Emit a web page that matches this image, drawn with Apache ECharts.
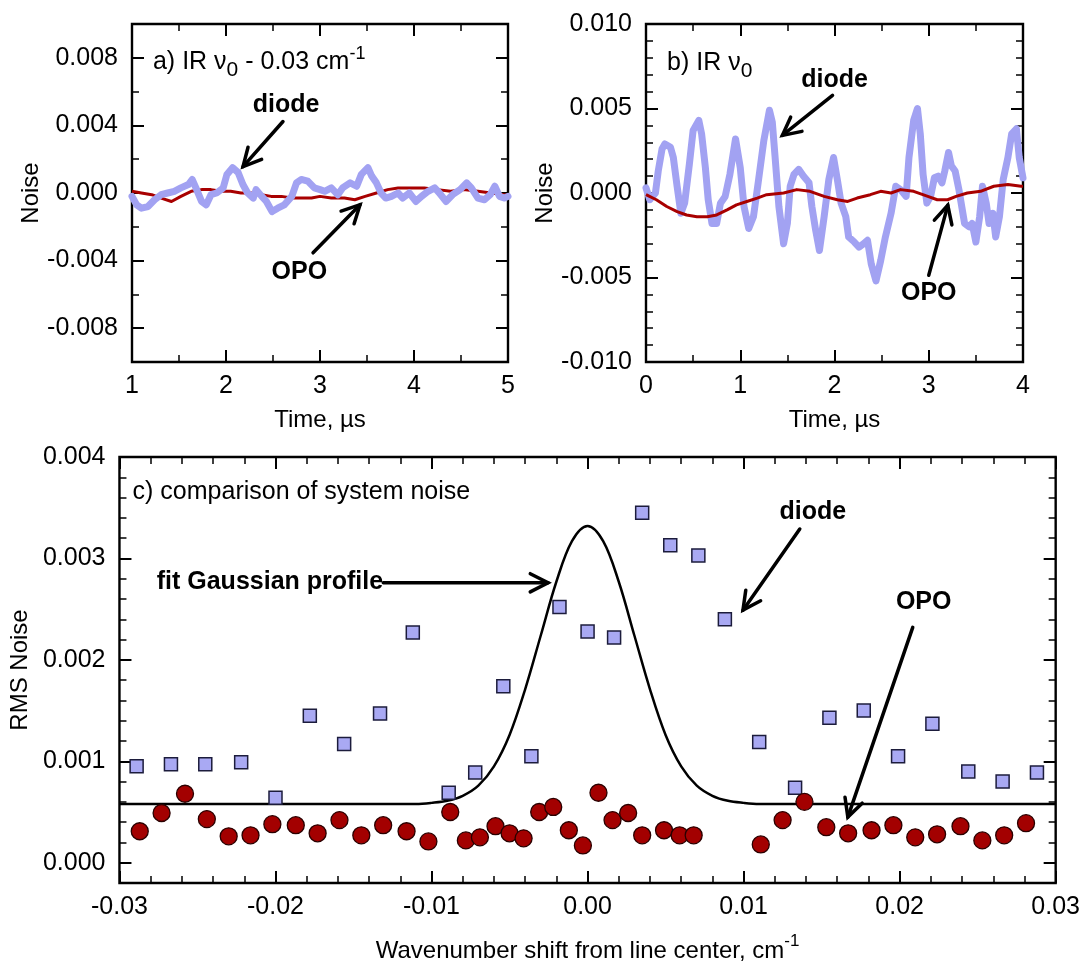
<!DOCTYPE html>
<html><head><meta charset="utf-8">
<script src="https://cdn.jsdelivr.net/npm/echarts@6/dist/echarts.min.js"></script>
<style>html,body{margin:0;padding:0;background:#fff}#c{width:1083px;height:970px}</style>
</head><body><div id="c"></div><script>
// ---------- Panel a: IR nu0 - 0.03 cm-1 ----------
const aDiodeT = [1.00,1.05,1.10,1.17,1.24,1.31,1.38,1.45,1.52,1.60,1.64,1.68,1.74,1.79,1.84,1.90,1.97,2.01,2.07,2.13,2.18,2.23,2.29,2.32,2.38,2.43,2.49,2.55,2.62,2.70,2.75,2.80,2.87,2.94,3.00,3.05,3.12,3.19,3.24,3.32,3.39,3.44,3.51,3.55,3.60,3.65,3.70,3.76,3.83,3.88,3.95,4.02,4.08,4.15,4.22,4.27,4.34,4.41,4.49,4.56,4.61,4.68,4.75,4.81,4.86,4.91,4.96,5.00];
const aDiodeY = [-0.0002,-0.0007,-0.0009,-0.0008,-0.0004,-0.0001,0.0000,0.0001,0.0003,0.0005,0.0008,0.0003,-0.0005,-0.0007,-0.0001,0.0000,0.0003,0.0011,0.0015,0.0012,0.0005,0.0000,-0.0003,0.0002,-0.0002,-0.0005,-0.0011,-0.0009,-0.0007,-0.0002,0.0006,0.0008,0.0007,0.0003,0.0002,0.0001,0.0003,-0.0001,0.0003,0.0006,0.0004,0.0011,0.0015,0.0010,0.0006,0.0000,-0.0003,-0.0002,0.0000,-0.0003,0.0000,-0.0005,-0.0002,0.0001,0.0003,0.0000,-0.0005,-0.0001,0.0002,0.0006,0.0003,-0.0003,-0.0004,-0.0001,0.0004,-0.0002,-0.0003,-0.0002];
const aOpoT = [1.00,1.10,1.21,1.31,1.42,1.52,1.63,1.74,1.84,1.95,2.05,2.16,2.27,2.38,2.48,2.59,2.70,2.80,2.91,3.00,3.12,3.26,3.37,3.48,3.60,3.72,3.83,3.97,4.11,4.25,4.39,4.53,4.68,4.82,4.96,5.00];
const aOpoY = [0.0001,0.0000,-0.0001,-0.0003,-0.0005,-0.0002,0.0001,0.0002,0.0002,0.0001,0.0001,0.0000,0.0000,-0.0001,-0.0002,-0.0002,-0.0003,-0.0003,-0.0003,-0.0002,-0.0003,-0.0003,-0.0004,-0.0002,0.0000,0.0002,0.0003,0.0003,0.0003,0.0002,0.0001,0.0002,0.0001,0.0000,-0.0001,-0.0001];
const aXTicks = [1,2,3,4,5];
const aYTicks = [-0.008,-0.004,0,0.004,0.008];

// ---------- Panel b: IR nu0 ----------
const bDiodeT = [0.00,0.04,0.10,0.13,0.17,0.20,0.26,0.29,0.33,0.37,0.41,0.46,0.50,0.56,0.59,0.63,0.66,0.70,0.75,0.79,0.84,0.89,0.95,1.00,1.04,1.09,1.14,1.19,1.25,1.31,1.34,1.37,1.41,1.46,1.50,1.53,1.57,1.62,1.67,1.73,1.76,1.80,1.84,1.89,1.94,1.99,2.03,2.07,2.12,2.15,2.21,2.26,2.31,2.35,2.39,2.44,2.49,2.54,2.60,2.65,2.70,2.76,2.79,2.84,2.88,2.91,2.94,2.98,3.02,3.06,3.10,3.14,3.17,3.21,3.24,3.28,3.32,3.38,3.43,3.46,3.50,3.54,3.57,3.61,3.64,3.68,3.71,3.75,3.79,3.84,3.88,3.93,3.96,4.00];
const bDiodeY = [0.0003,-0.0004,0.0000,0.0013,0.0026,0.0029,0.0027,0.0021,0.0004,-0.0012,-0.0006,0.0017,0.0037,0.0043,0.0035,0.0015,-0.0004,-0.0018,-0.0018,-0.0006,-0.0002,0.0011,0.0032,0.0015,-0.0008,-0.0021,-0.0014,0.0006,0.0031,0.0049,0.0042,0.0021,-0.0008,-0.0030,-0.0018,0.0004,0.0011,0.0014,0.0010,0.0006,-0.0008,-0.0022,-0.0034,-0.0014,0.0008,0.0021,0.0008,-0.0006,-0.0014,-0.0026,-0.0029,-0.0032,-0.0030,-0.0028,-0.0042,-0.0052,-0.0040,-0.0026,-0.0012,0.0004,0.0002,-0.0002,0.0021,0.0043,0.0050,0.0035,0.0011,-0.0006,-0.0002,0.0009,0.0010,0.0006,0.0013,0.0024,0.0016,0.0013,0.0002,-0.0018,-0.0020,-0.0018,-0.0029,-0.0014,0.0004,-0.0006,-0.0018,-0.0012,-0.0026,-0.0014,0.0008,0.0021,0.0035,0.0038,0.0021,0.0009];
const bOpoT = [0.00,0.11,0.22,0.33,0.43,0.54,0.65,0.75,0.86,0.96,1.07,1.18,1.28,1.46,1.60,1.74,1.89,2.03,2.14,2.24,2.38,2.49,2.60,2.70,2.84,2.99,3.09,3.20,3.29,3.41,3.55,3.69,3.84,3.98,4.00];
const bOpoY = [-0.0001,-0.0004,-0.0008,-0.0011,-0.0013,-0.0014,-0.0014,-0.0013,-0.0010,-0.0007,-0.0005,-0.0003,-0.0001,0.0000,0.0002,0.0001,-0.0002,-0.0004,-0.0005,-0.0003,-0.0001,0.0001,0.0000,0.0002,0.0001,-0.0002,-0.0004,-0.0004,-0.0002,0.0000,0.0001,0.0004,0.0005,0.0004,0.0004];
const bXTicks = [0,1,2,3,4];
const bYTicks = [-0.010,-0.005,0,0.005,0.010];

// ---------- Panel c: comparison of system noise ----------
const cDiodeX = [-0.0289,-0.0267,-0.0245,-0.0222,-0.0200,-0.0178,-0.0156,-0.0133,-0.0112,-0.0089,-0.0072,-0.0054,-0.0036,-0.0018,0.0000,0.0017,0.0035,0.0053,0.0071,0.0088,0.0110,0.0133,0.0155,0.0177,0.0199,0.0221,0.0244,0.0266,0.0288];
const cDiodeY = [0.00095,0.00097,0.00097,0.00099,0.00064,0.00145,0.00117,0.00147,0.00227,0.00069,0.00089,0.00174,0.00105,0.00252,0.00228,0.00222,0.00345,0.00313,0.00303,0.00240,0.00119,0.00074,0.00143,0.00150,0.00105,0.00137,0.00090,0.00080,0.00089];
const cOpoX = [-0.0287,-0.0273,-0.0258,-0.0244,-0.0230,-0.0216,-0.0202,-0.0187,-0.0173,-0.0159,-0.0145,-0.0131,-0.0116,-0.0102,-0.0088,-0.0078,-0.0069,-0.0059,-0.0050,-0.0041,-0.0031,-0.0022,-0.0012,-0.0003,0.0007,0.0016,0.0026,0.0035,0.0049,0.0059,0.0068,0.0111,0.0125,0.0139,0.0153,0.0167,0.0182,0.0196,0.0210,0.0224,0.0239,0.0253,0.0267,0.0281];
const cOpoY = [0.00031,0.00049,0.00068,0.00043,0.00026,0.00027,0.00038,0.00037,0.00029,0.00042,0.00027,0.00037,0.00031,0.00021,0.00050,0.00022,0.00025,0.00036,0.00029,0.00024,0.00050,0.00055,0.00032,0.00017,0.00069,0.00042,0.00049,0.00027,0.00032,0.00027,0.00027,0.00018,0.00042,0.00060,0.00035,0.00029,0.00032,0.00037,0.00025,0.00028,0.00036,0.00022,0.00027,0.00039];
const cFitX = [-0.030,-0.011,-0.010,-0.009,-0.008,-0.007,-0.006,-0.005,-0.004,-0.003,-0.002,-0.001,0.000,0.001,0.002,0.003,0.004,0.005,0.006,0.007,0.008,0.009,0.010,0.011,0.030];
const cFitY = [0.00058,0.00058,0.00059,0.00061,0.00066,0.00076,0.00095,0.00126,0.00171,0.00224,0.00277,0.00317,0.00332,0.00317,0.00277,0.00224,0.00171,0.00126,0.00095,0.00076,0.00066,0.00061,0.00059,0.00058,0.00058];
const cXTicks = [-0.03,-0.02,-0.01,0,0.01,0.02,0.03];
const cYTicks = [0,0.001,0.002,0.003,0.004];

const zip = (xs, ys) => xs.map((x, i) => [x, ys[i]]);

const FONT = 'Liberation Sans, Arial, Helvetica, sans-serif';
const BLACK = '#000';
const DIODE_LINE = '#a2a2f2';
const OPO_LINE = '#a80000';

const fmt = d => v => (Math.abs(v) < 1e-12 ? 0 : v).toFixed(d);
const lbl = (f, margin) => ({show: true, fontSize: 25, color: BLACK, fontFamily: FONT, margin: margin, formatter: f, showMinLabel: true, showMaxLabel: true});
const majTick = {show: true, inside: true, length: 12, lineStyle: {color: BLACK, width: 2}};
const minTickStyle = {show: true, inside: true, length: 7, lineStyle: {color: BLACK, width: 1.5}};
const nameStyle = {fontSize: 24, color: BLACK, fontFamily: FONT};
const noLine = {show: false, onZero: false};

function xPair(grid, min, max, interval, split, labelFmt, name, gap, nameStyleX) {
  const base = {type: 'value', gridIndex: grid, min, max, interval,
    axisLine: noLine, splitLine: {show: false}, minorSplitLine: {show: false},
    axisTick: majTick, minorTick: {show: true, splitNumber: split, length: 7, lineStyle: {color: BLACK, width: 1.5}}};
  return [
    Object.assign({}, base, {position: 'bottom', axisLabel: lbl(labelFmt, 12), name, nameLocation: 'middle', nameGap: gap, nameTextStyle: nameStyleX || nameStyle}),
    Object.assign({}, base, {position: 'top', axisLabel: {show: false}})
  ];
}
function yPairSimple(grid, min, max, interval, split, labelFmt, name, gap) {
  const base = {type: 'value', gridIndex: grid, min, max, interval,
    axisLine: noLine, splitLine: {show: false}, minorSplitLine: {show: false},
    axisTick: majTick, minorTick: {show: true, splitNumber: split, length: 7, lineStyle: {color: BLACK, width: 1.5}}};
  return [
    Object.assign({}, base, {position: 'left', axisLabel: lbl(labelFmt, 14), name, nameLocation: 'middle', nameGap: gap, nameRotate: 90, nameTextStyle: nameStyle}),
    Object.assign({}, base, {position: 'right', axisLabel: {show: false}})
  ];
}
// minor-step axis + overlay axis carrying the labelled major ticks
function yQuad(grid, min, max, minorStep, majors, labelFmt, name, gap) {
  const base = {type: 'value', gridIndex: grid, min, max, interval: minorStep,
    axisLine: noLine, splitLine: {show: false}};
  const minor = Object.assign({}, base, {axisTick: minTickStyle, axisLabel: {show: false}});
  const major = Object.assign({}, base, {axisTick: Object.assign({}, majTick, {customValues: majors})});
  return [
    Object.assign({}, minor, {position: 'left'}),
    Object.assign({}, major, {position: 'left', axisLabel: Object.assign(lbl(labelFmt, 14), {customValues: majors}), name, nameLocation: 'middle', nameGap: gap, nameRotate: 90, nameTextStyle: nameStyle}),
    Object.assign({}, minor, {position: 'right'}),
    Object.assign({}, major, {position: 'right', axisLabel: {show: false}})
  ];
}

const xAxes = [].concat(
  xPair(0, aXTicks[0], aXTicks[aXTicks.length - 1], 1, 2, v => String(Math.round(v)), 'Time, µs', 46),
  xPair(1, bXTicks[0], bXTicks[bXTicks.length - 1], 1, 2, v => String(Math.round(v)), 'Time, µs', 46),
  xPair(2, cXTicks[0], cXTicks[cXTicks.length - 1], 0.01, 5, fmt(2),
    '{n|Wavenumber shift from line center, cm}{p|-1}', 50,
    {rich: {n: {fontSize: 24, lineHeight: 36, color: BLACK, fontFamily: FONT}, p: {fontSize: 17, lineHeight: 17, verticalAlign: 'top', color: BLACK, fontFamily: FONT}}})
);
const yAxes = [].concat(
  yQuad(0, -0.01, 0.01, 0.002, aYTicks, fmt(3), 'Noise', 85),          // 0..3
  yPairSimple(1, bYTicks[0], bYTicks[bYTicks.length - 1], 0.005, 5, fmt(3), 'Noise', 85), // 4,5
  yQuad(2, -0.0002, 0.004, 0.0002, cYTicks, fmt(3), 'RMS Noise', 85)   // 6..9
);

const gridStyle = {show: true, borderColor: BLACK, borderWidth: 2.4, backgroundColor: 'transparent'};
const option = {
  animation: false,
  backgroundColor: '#fff',
  textStyle: {fontFamily: FONT},
  grid: [
    Object.assign({left: 132, top: 24, width: 376, height: 338}, gridStyle),
    Object.assign({left: 646, top: 24, width: 377, height: 338}, gridStyle),
    Object.assign({left: 119, top: 457, width: 937, height: 426}, gridStyle)
  ],
  xAxis: xAxes,
  yAxis: yAxes,
  series: [
    {name: 'a OPO', type: 'line', xAxisIndex: 0, yAxisIndex: 0, data: zip(aOpoT, aOpoY), showSymbol: false,
      lineStyle: {color: OPO_LINE, width: 3, join: 'round'}, z: 2},
    {name: 'a diode', type: 'line', xAxisIndex: 0, yAxisIndex: 0, data: zip(aDiodeT, aDiodeY), showSymbol: false,
      lineStyle: {color: DIODE_LINE, width: 7, cap: 'round', join: 'round'}, z: 3},
    {name: 'b diode', type: 'line', xAxisIndex: 2, yAxisIndex: 4, data: zip(bDiodeT, bDiodeY), showSymbol: false,
      lineStyle: {color: DIODE_LINE, width: 7, cap: 'round', join: 'round'}, z: 2},
    {name: 'b OPO', type: 'line', xAxisIndex: 2, yAxisIndex: 4, data: zip(bOpoT, bOpoY), showSymbol: false,
      lineStyle: {color: OPO_LINE, width: 3, join: 'round'}, z: 3},
    {name: 'fit', type: 'line', xAxisIndex: 4, yAxisIndex: 6, data: zip(cFitX, cFitY), showSymbol: false, smooth: 0.35,
      lineStyle: {color: BLACK, width: 2.5}, z: 2},
    {name: 'c diode', type: 'scatter', xAxisIndex: 4, yAxisIndex: 6, data: zip(cDiodeX, cDiodeY), symbol: 'rect', symbolSize: 13,
      itemStyle: {color: '#a9a9f3', borderColor: '#1c1c3c', borderWidth: 1.5, opacity: 1}, z: 3},
    {name: 'c OPO', type: 'scatter', xAxisIndex: 4, yAxisIndex: 6, data: zip(cOpoX, cOpoY), symbol: 'circle', symbolSize: 17,
      itemStyle: {color: '#a30000', borderColor: '#2a0000', borderWidth: 1.3, opacity: 1}, z: 3}
  ]
};

const chart = echarts.init(document.getElementById('c'), null, {renderer: 'canvas'});
chart.setOption(option);

// ---------- annotations (placed in data space, converted via the axes) ----------
const labels = [
  {s: 1, text: 'diode', at: [2.64, 0.0052]},
  {s: 1, text: 'OPO', at: [2.78, -0.0047]},
  {s: 2, text: 'diode', at: [2.0, 0.00667]},
  {s: 2, text: 'OPO', at: [3.0, -0.00593]},
  {s: 4, text: 'fit Gaussian profile', at: [-0.0131, 0.00277], align: 'right'},
  {s: 4, text: 'diode', at: [0.01444, 0.00346]},
  {s: 4, text: 'OPO', at: [0.02154, 0.00257]}
];
const arrows = [
  {s: 1, from: [2.606, 0.00423], to: [2.181, 0.00156]},
  {s: 1, from: [2.926, -0.00354], to: [3.426, -0.00069]},
  {s: 2, from: [1.979, 0.00578], to: [1.447, 0.00341]},
  {s: 2, from: [3.0, -0.00487], to: [3.202, -0.00073]},
  {s: 4, from: [-0.01309, 0.00276], to: [-0.00253, 0.00276]},
  {s: 4, from: [0.0136, 0.00329], to: [0.00996, 0.00249]},
  {s: 4, from: [0.02084, 0.00232], to: [0.01668, 0.00045]}
];
const titles = [
  {s: 1, at: [1.223, 0.00772], text: '{n|a) IR ν}{s|0}{n| - 0.03 cm}{p|-1}'},
  {s: 2, at: [0.223, 0.00767], text: '{n|b) IR ν}{s|0}'},
  {s: 4, at: [-0.02916, 0.00365], text: '{n|c) comparison of system noise}'}
];
const richT = {
  n: {fontSize: 25, lineHeight: 36, fontFamily: FONT, fill: BLACK, color: BLACK},
  s: {fontSize: 21, lineHeight: 21, verticalAlign: 'bottom', fontFamily: FONT, fill: BLACK, color: BLACK},
  p: {fontSize: 18, lineHeight: 18, verticalAlign: 'top', fontFamily: FONT, fill: BLACK, color: BLACK}
};

const px = (s, v) => chart.convertToPixel({seriesIndex: s}, v);
const g = [];
labels.forEach(l => {
  const p = px(l.s, l.at);
  g.push({type: 'text', x: p[0], y: p[1], z: 100,
    style: {text: l.text, font: 'bold 25px ' + FONT, fill: BLACK,
      align: l.align || 'center', verticalAlign: 'middle',
      textAlign: l.align || 'center', textVerticalAlign: 'middle'}});
});
titles.forEach(t => {
  const p = px(t.s, t.at);
  g.push({type: 'text', x: p[0], y: p[1], z: 100,
    style: {text: t.text, rich: richT, fill: BLACK, font: '25px ' + FONT,
      align: 'left', verticalAlign: 'middle', textAlign: 'left', textVerticalAlign: 'middle'}});
});
arrows.forEach(a => {
  const p0 = px(a.s, a.from), p1 = px(a.s, a.to);
  const ang = Math.atan2(p0[1] - p1[1], p0[0] - p1[0]);
  const L = 20, h = 27 * Math.PI / 180;
  const arm1 = [p1[0] + L * Math.cos(ang + h), p1[1] + L * Math.sin(ang + h)];
  const arm2 = [p1[0] + L * Math.cos(ang - h), p1[1] + L * Math.sin(ang - h)];
  g.push({type: 'line', z: 100, shape: {x1: p0[0], y1: p0[1], x2: p1[0], y2: p1[1]},
    style: {stroke: BLACK, lineWidth: 3.5, lineCap: 'round'}});
  g.push({type: 'polyline', z: 100, shape: {points: [arm1, p1, arm2]},
    style: {stroke: BLACK, lineWidth: 3.5, lineCap: 'round', lineJoin: 'miter', fill: null}});
});
chart.setOption({graphic: g});
</script></body></html>
